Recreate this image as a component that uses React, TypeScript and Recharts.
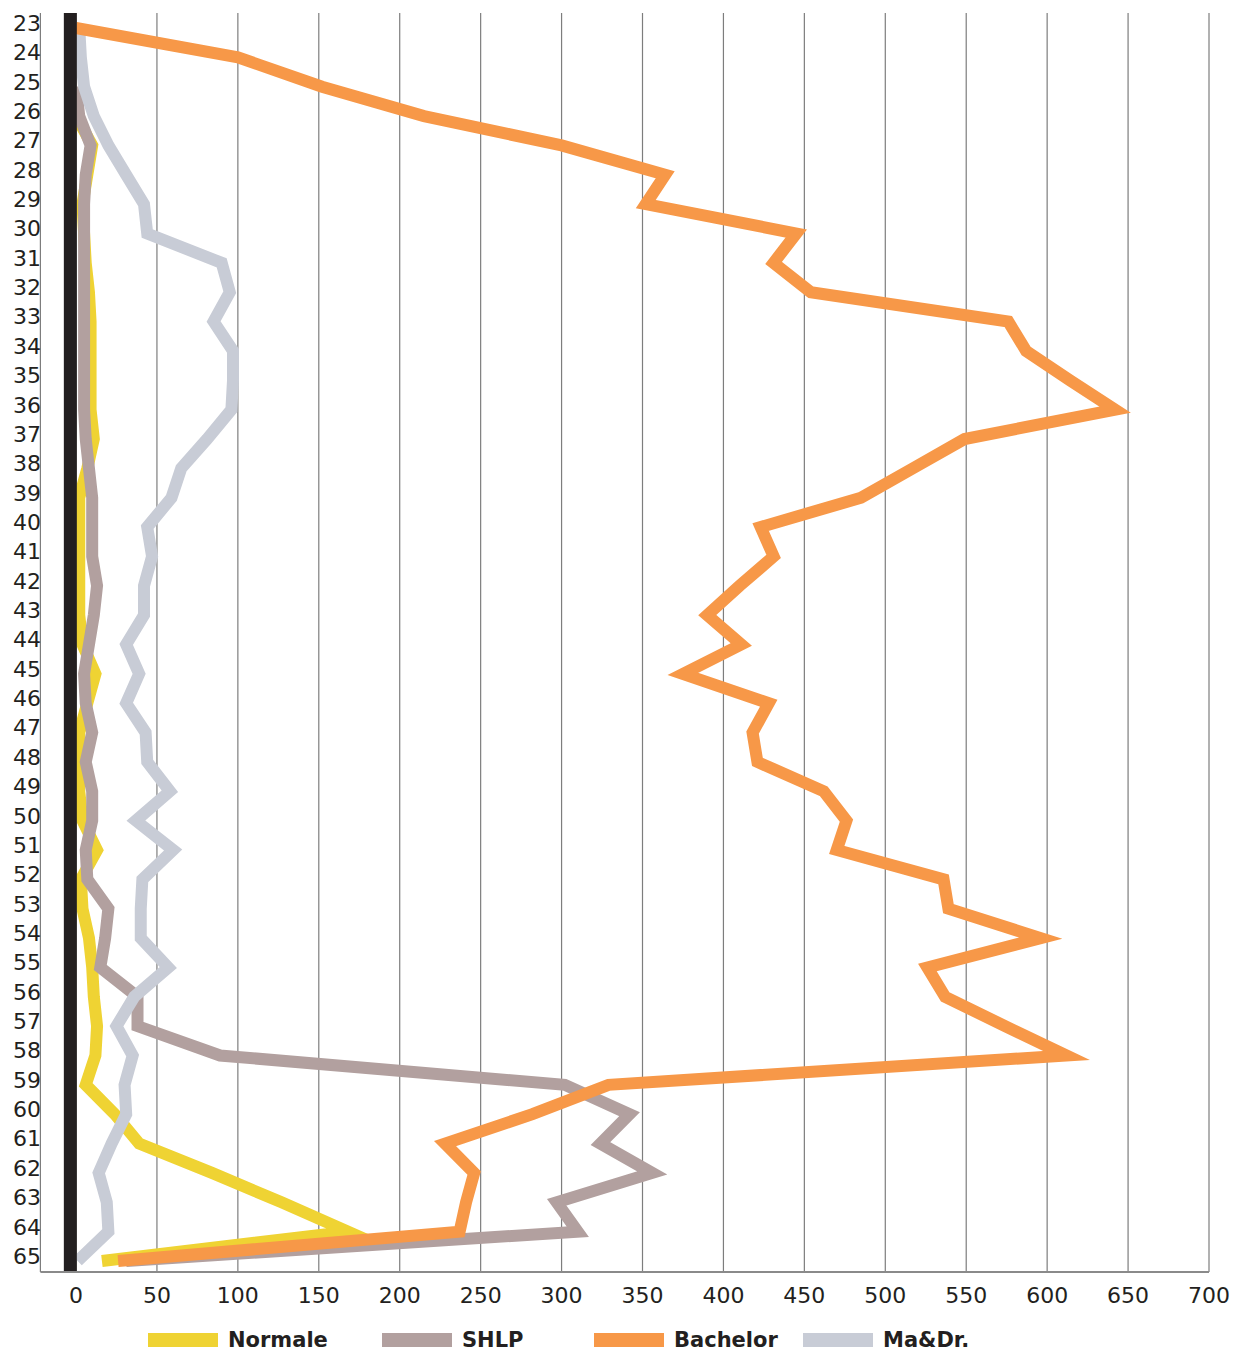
import React from "react";
import {
  LineChart,
  Line,
  XAxis,
  YAxis,
  CartesianGrid,
  ReferenceLine
} from "recharts";

// ages on the vertical axis
const ages = [
  23, 24, 25, 26, 27, 28, 29, 30, 31, 32, 33, 34, 35, 36, 37, 38, 39, 40, 41, 42, 43, 44,
  45, 46, 47, 48, 49, 50, 51, 52, 53, 54, 55, 56, 57, 58, 59, 60, 61, 62, 63, 64, 65
];

const normale = [
  null, null, null, 0, 10, 7, 4, 5, 6, 8, 9, 9, 9, 9, 11, 7, 2, 2, 2, 2, 2, 4,
  12, 7, 2, 2, 2, 4, 13, 3, 4, 8, 10, 11, 13, 12, 6, 24, 39, 84, 127, 168, 16
];

const shlp = [
  null, null, 0, 2, 9, 6, 5, 5, 5, 5, 5, 5, 5, 5, 6, 8, 10, 10, 10, 13, 11, 8,
  5, 6, 10, 6, 10, 10, 6, 7, 20, 18, 15, 38, 38, 89, 302, 342, 324, 356, 297, 310, 31
];

const bachelor = [
  0, 100, 152, 215, 300, 364, 352, 445, 431, 454, 576, 587, 614, 642, 549, 517, 485, 423, 431, 410, 390, 411,
  375, 428, 418, 421, 462, 476, 470, 536, 539, 596, 526, 537, 574, 612, 329, 282, 228, 246, 241, 237, 26
];

const maDr = [
  2, 3, 5, 11, 20, 31, 42, 44, 90, 95, 85, 97, 97, 96, 81, 65, 59, 44, 47, 42, 42, 31,
  39, 31, 43, 44, 58, 37, 60, 41, 40, 40, 57, 36, 25, 35, 30, 31, 22, 14, 19, 20, 1
];

const xTicks = [0, 50, 100, 150, 200, 250, 300, 350, 400, 450, 500, 550, 600, 650, 700];

// drawing order: yellow under, orange on top
const series = [
  { key: "normale", name: "Normale", color: "#EFD333", values: normale },
  { key: "shlp", name: "SHLP", color: "#B2A09F", values: shlp },
  { key: "maDr", name: "Ma&Dr.", color: "#C8CCD6", values: maDr },
  { key: "bachelor", name: "Bachelor", color: "#F79848", values: bachelor }
];

const legendOrder = ["normale", "shlp", "bachelor", "maDr"];
const legendLeft = [148, 382, 594, 803];

const data = ages.map((age, i) => {
  const row: any = { age };
  series.forEach((s) => {
    row[s.key] = s.values[i];
  });
  return row;
});

const AgeTick = (props: any) => {
  const { y, payload } = props;
  return (
    <text
      x={41}
      y={y - 5}
      dy="0.36em"
      textAnchor="end"
      fontFamily="DejaVu Sans"
      fontSize={22}
      fill="#231F20"
    >
      {payload.value}
    </text>
  );
};

const ValueTick = (props: any) => {
  const { x, payload } = props;
  return (
    <text
      x={x}
      y={1295}
      dy="0.36em"
      textAnchor="middle"
      fontFamily="DejaVu Sans"
      fontSize={22}
      fill="#231F20"
    >
      {payload.value}
    </text>
  );
};

export default function App() {
  return (
    <div style={{ position: "absolute", left: 0, top: 0, width: 1235, height: 1352, background: "#fff" }}>
      <LineChart
        layout="vertical"
        width={1235}
        height={1352}
        data={data}
        margin={{ top: 13, right: 26, bottom: 30, left: 0 }}
      >
        <CartesianGrid horizontal={false} stroke="#7d7d7d" strokeWidth={1.2} />
        <XAxis
          type="number"
          domain={[-22, 700]}
          ticks={xTicks}
          interval={0}
          allowDataOverflow
          axisLine={{ stroke: "#8a8a8a", strokeWidth: 2 }}
          tickLine={false}
          tick={<ValueTick />}
          height={50}
        />
        <YAxis
          type="number"
          dataKey="age"
          domain={[22.489, 65.375]}
          ticks={ages}
          interval={0}
          allowDataOverflow
          axisLine={false}
          tickLine={false}
          tick={<AgeTick />}
          width={40.4}
        />
        {series.map((s) => (
          <Line
            key={s.key}
            dataKey={s.key}
            name={s.name}
            type="linear"
            stroke={s.color}
            strokeWidth={12}
            strokeLinejoin="miter"
            strokeLinecap="butt"
            strokeMiterlimit={4}
            dot={false}
            activeDot={false}
            isAnimationActive={false}
          />
        ))}
        <ReferenceLine x={-3.5} stroke="#231F20" strokeWidth={13} />
      </LineChart>

      {legendOrder.map((k, i) => {
        const s = series.find((x) => x.key === k)!;
        return (
          <div
            key={k}
            style={{
              position: "absolute",
              left: legendLeft[i],
              top: 1328,
              height: 24,
              display: "flex",
              alignItems: "center"
            }}
          >
            <div style={{ width: 70, height: 14, background: s.color }} />
            <span
              style={{
                marginLeft: 10,
                fontFamily: "DejaVu Sans",
                fontWeight: "bold",
                fontSize: 21,
                color: "#231F20",
                whiteSpace: "nowrap"
              }}
            >
              {s.name}
            </span>
          </div>
        );
      })}
    </div>
  );
}
